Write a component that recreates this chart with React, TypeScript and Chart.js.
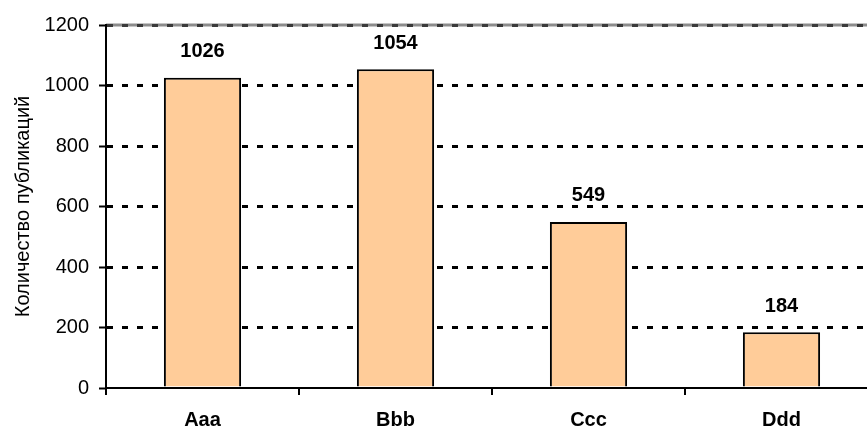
import React, { useEffect, useRef } from "react";
import { Chart, registerables } from "chart.js";

Chart.register(...registerables);

const categories = ["Aaa", "Bbb", "Ccc", "Ddd"];
const publications = [1026, 1054, 549, 184];
const yTicks = [0, 200, 400, 600, 800, 1000, 1200];
const yTitle = "Количество публикаций";

const FONT = "'Liberation Sans', Arial, sans-serif";

// Writes each bar's value above it
const valueLabels = {
  id: "valueLabels",
  afterDatasetsDraw(chart: any) {
    const ctx = chart.ctx;
    const meta = chart.getDatasetMeta(0);
    ctx.save();
    ctx.font = `bold 20px ${FONT}`;
    ctx.fillStyle = "#000";
    ctx.textAlign = "center";
    ctx.textBaseline = "middle";
    meta.data.forEach((bar: any, i: number) => {
      ctx.fillText(String(publications[i]), bar.x, bar.y - 26);
    });
    ctx.restore();
  },
};

// Grey frame line along the top of the plot, under the dashed grid
const topFrame = {
  id: "topFrame",
  beforeDraw(chart: any) {
    const { ctx, chartArea } = chart;
    ctx.save();
    ctx.strokeStyle = "#8c8c8c";
    ctx.lineWidth = 3;
    ctx.beginPath();
    ctx.moveTo(chartArea.left, chartArea.top);
    ctx.lineTo(chartArea.right, chartArea.top);
    ctx.stroke();
    ctx.restore();
  },
};

// Dashed grid colour per tick: darker grey on the top frame, none on the baseline
const gridColor = (c: any) => {
  const v = c.tick ? c.tick.value : null;
  if (v === 0) return "rgba(0,0,0,0)";
  if (v === 1200) return "#3a3a3a";
  return "#000";
};

export default function App() {
  const ref = useRef<HTMLCanvasElement | null>(null);

  useEffect(() => {
    if (!ref.current) return;
    const chart = new Chart(ref.current, {
      type: "bar",
      data: {
        labels: categories,
        datasets: [
          {
            data: publications,
            backgroundColor: "#FFCC99",
            borderColor: "#000",
            borderWidth: 2,
            barPercentage: 0.8,
            categoryPercentage: 0.5,
          },
        ],
      },
      options: {
        responsive: false,
        animation: false,
        layout: { padding: { top: 25, right: 0, bottom: 0, left: 0 } },
        plugins: {
          legend: { display: false },
          tooltip: { enabled: false },
        },
        scales: {
          x: {
            offset: true,
            afterFit: (s: any) => {
              s.height = 40;
            },
            border: { display: true, color: "#000", width: 2 },
            grid: {
              offset: true,
              drawOnChartArea: false,
              drawTicks: true,
              tickLength: 7,
              color: "#000",
              lineWidth: 2,
            },
            ticks: {
              color: "#000",
              padding: 13,
              font: { family: FONT, size: 20, weight: "bold" },
            },
          },
          y: {
            min: 0,
            max: 1200,
            afterFit: (s: any) => {
              s.width = 106;
            },
            afterBuildTicks: (s: any) => {
              s.ticks = yTicks.map((v) => ({ value: v }));
            },
            border: { display: true, color: "#000", width: 2, dash: [6, 9] },
            grid: {
              color: gridColor,
              lineWidth: 3,
              drawTicks: true,
              tickLength: 7,
              tickColor: "#000",
              tickWidth: 2,
              tickBorderDash: [],
            },
            ticks: {
              color: "#000",
              padding: 10,
              font: { family: FONT, size: 20 },
              callback: (v: any) => String(v),
            },
            title: {
              display: true,
              text: yTitle,
              color: "#000",
              padding: { top: 11, bottom: 0 },
              font: { family: FONT, size: 20 },
            },
          },
        },
      },
      plugins: [topFrame, valueLabels],
    });
    return () => chart.destroy();
  }, []);

  return (
    <div
      style={{
        position: "fixed",
        left: 0,
        top: 0,
        width: 867,
        height: 428,
        overflow: "hidden",
        background: "#fff",
      }}
    >
      <canvas ref={ref} width={878} height={428} style={{ display: "block" }} />
    </div>
  );
}
